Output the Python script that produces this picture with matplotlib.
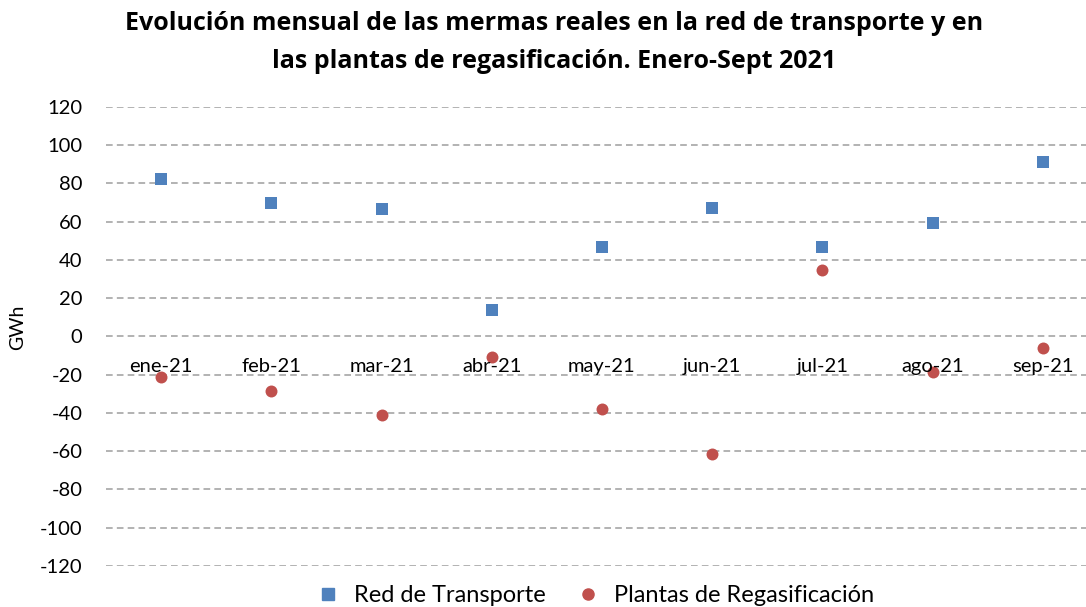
import matplotlib
matplotlib.use("Agg")
import matplotlib.pyplot as plt
from matplotlib.lines import Line2D

plt.rcParams['font.family'] = ['Lato', 'DejaVu Sans']

categories = ["ene-21", "feb-21", "mar-21", "abr-21", "may-21", "jun-21", "jul-21", "ago-21", "sep-21"]
red_transporte = [82.0, 69.8, 66.4, 13.6, 46.5, 66.9, 46.5, 59.0, 90.9]
plantas_regas = [-21.3, -28.6, -41.1, -11.0, -37.8, -61.5, 34.8, -18.5, -6.3]
yticks = [-120, -100, -80, -60, -40, -20, 0, 20, 40, 60, 80, 100, 120]

W, H = 1086, 607
fig = plt.figure(figsize=(W / 100, H / 100), dpi=100)
left, right = 106, 1086
top, bottom = 106.7, 566
ax = fig.add_axes([left / W, 1 - bottom / H, (right - left) / W, (bottom - top) / H])

x = list(range(len(categories)))
blue = "#4F81BD"
red = "#C0504D"
ax.scatter(x, red_transporte, marker="s", s=64, color=blue, zorder=3, linewidths=0)
ax.scatter(x, plantas_regas, marker="o", s=74, color=red, zorder=3, linewidths=0)

ax.set_xlim(-0.5, -0.5 + (right - left) / 110.2)
ax.set_ylim(-120, 120)
ax.set_yticks(yticks)
ax.set_yticklabels([str(v) for v in yticks], fontsize=14.5)
ax.tick_params(axis="y", length=0, pad=17)
ax.grid(axis="y", color="#A6A6A6", linestyle=(0, (4, 2.5)), linewidth=1.2)
ax.set_axisbelow(True)
for s in ax.spines.values():
    s.set_visible(False)

ax.set_xticks([])
for xi, lab in zip(x, categories):
    ax.annotate(lab, xy=(xi, 0), xytext=(0, -30), textcoords="offset pixels",
                ha="center", va="center", fontsize=14.5, color="black")

fig.text(18 / W, 1 - 327 / H, "GWh", rotation=90, ha="center", va="center", fontsize=14)

title_font = ["Open Sans", "DejaVu Sans"]
fig.text(554 / W, 1 - 24 / H, "Evolución mensual de las mermas reales en la red de transporte y en",
         ha="center", va="center", fontsize=18, fontweight="bold", family=title_font)
fig.text(554 / W, 1 - 61 / H, "las plantas de regasificación. Enero-Sept 2021",
         ha="center", va="center", fontsize=18, fontweight="bold", family=title_font)

handles = [
    Line2D([], [], marker="s", linestyle="none", color=blue, markersize=8),
    Line2D([], [], marker="o", linestyle="none", color=red, markersize=8),
]
fig.legend(handles, ["Red de Transporte", "Plantas de Regasificación"],
           loc="center", bbox_to_anchor=(594 / W, 1 - 596 / H), ncol=2, frameon=False,
           fontsize=17, handletextpad=0.5, columnspacing=1.2, handlelength=1.2)

fig.savefig("out.png", dpi=100)
